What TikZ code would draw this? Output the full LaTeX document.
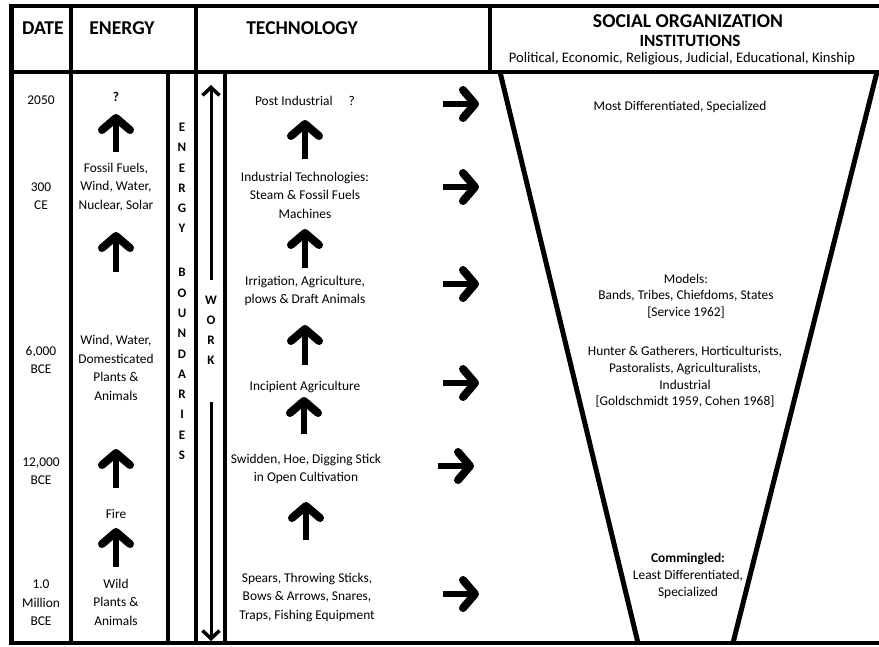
\documentclass[tikz,border=0pt]{standalone}
\usepackage{fontspec}
\setmainfont{Carlito}
\usetikzlibrary{arrows.meta}

\begin{document}
\begin{tikzpicture}[x=1pt,y=-1pt,line width=3.5pt,
  head/.style={inner sep=0pt,font=\fontsize{19.6}{22}\selectfont\bfseries},
  txt/.style={align=center,inner sep=0pt,font=\fontsize{13.4}{18.5}\selectfont},
  inst/.style={align=center,inner sep=0pt,font=\fontsize{13.4}{16.7}\selectfont},
  letters/.style={align=center,inner sep=0pt,font=\fontsize{13}{20.3}\selectfont\bfseries},
  big arrow/.style={line width=6.5pt,-{Straight Barb[length=12pt,width=28pt,line width=8pt,round]}},
  work arrow/.style={line width=3pt,-{Straight Barb[length=8pt,width=17pt,line width=3.5pt]}}]

  \useasboundingbox (0,0) rectangle (879,646);

  % frame
  \draw (11,6) -- (879,6);
  \draw (11,72) -- (879,72);
  \draw (11,643) -- (879,643);
  \draw[line width=5pt] (11,4) -- (11,645);
  \draw (71,6) -- (71,643);
  \draw (196,6) -- (196,643);
  \draw (490,6) -- (490,72);
  \draw (168,72) -- (168,643);
  \draw (225,72) -- (225,643);
  \draw[line width=5pt] (500,72) -- (638,643);
  \draw[line width=5pt] (877,72) -- (733,643);

  % header
  \node[head] (date) at (43,28) {DATE};
  \node[head] (energy) at (122,28) {ENERGY};
  \node[head] (tech) at (302,28) {TECHNOLOGY};
  \node[head] (social) at (688,21) {SOCIAL ORGANIZATION};
  \node[inner sep=0pt,font=\fontsize{17.2}{20}\selectfont\bfseries] (inst) at (690,41) {INSTITUTIONS};
  \node[inner sep=0pt,font=\fontsize{14.6}{17}\selectfont] (kinds) at (682,59) {Political, Economic, Religious, Judicial, Educational, Kinship};

  % dates
  \node[txt] (d1) at (41,100) {2050};
  \node[txt] (d2) at (41,196) {300\\CE};
  \node[txt] (d3) at (41,360) {6,000\\BCE};
  \node[txt] (d4) at (41,471) {12,000\\BCE};
  \node[txt] (d5) at (41,603) {1.0\\Million\\BCE};

  % energy
  \node[txt,font=\fontsize{13.4}{18.5}\selectfont\bfseries] (e1) at (116,97) {?};
  \node[txt] (e2) at (116,187) {Fossil Fuels,\\Wind, Water,\\Nuclear, Solar};
  \node[txt] (e3) at (116,368) {Wind, Water,\\Domesticated\\Plants \&\\Animals};
  \node[txt] (e4) at (116,514) {Fire};
  \node[txt] (e5) at (116,602) {Wild\\Plants \&\\Animals};

  \node[letters] (eng) at (182,178) {E\\N\\E\\R\\G\\Y};
  \node[letters] (bound) at (182,364) {B\\O\\U\\N\\D\\A\\R\\I\\E\\S};
  \node[letters,font=\fontsize{13}{20}\selectfont\bfseries] (work) at (211,330) {W\\O\\R\\K};

  % technology
  \node[txt] (t1) at (305,101) {Post Industrial\hspace{1.2em}?};
  \node[txt] (t2) at (305,195) {Industrial Technologies:\\Steam \& Fossil Fuels\\Machines};
  \node[txt] (t3) at (305,291) {Irrigation, Agriculture,\\plows \& Draft Animals};
  \node[txt] (t4) at (305,387) {Incipient Agriculture};
  \node[txt] (t5) at (306,469) {Swidden, Hoe, Digging Stick\\in Open Cultivation};
  \node[txt] (t6) at (307,597) {Spears, Throwing Sticks,\\Bows \& Arrows, Snares,\\Traps, Fishing Equipment};

  % social organization
  \node[inst] (s1) at (680,107) {Most Differentiated, Specialized};
  \node[inst] (s2) at (686,296) {Models:\\Bands, Tribes, Chiefdoms, States\\{[}Service 1962{]}};
  \node[inst] (s3) at (685,377) {Hunter \& Gatherers, Horticulturists,\\Pastoralists, Agriculturalists,\\Industrial\\{[}Goldschmidt 1959, Cohen 1968{]}};
  \node[inst] (s4) at (688,576) {\textbf{Commingled:}\\Least Differentiated,\\Specialized};

  % arrow ends
  \coordinate (ea1) at (116,152); \coordinate (eb1) at (116,114);
  \coordinate (ea2) at (116,272); \coordinate (eb2) at (116,232);
  \coordinate (ea3) at (116,488); \coordinate (eb3) at (116,449);
  \coordinate (ea4) at (116,567); \coordinate (eb4) at (116,528);
  \coordinate (ta1) at (305,159); \coordinate (tb1) at (305,120);
  \coordinate (ta2) at (305,268); \coordinate (tb2) at (305,229);
  \coordinate (ta3) at (305,365); \coordinate (tb3) at (305,325);
  \coordinate (ta4) at (304,434); \coordinate (tb4) at (304,397);
  \coordinate (ta5) at (306,540); \coordinate (tb5) at (306,502);
  \coordinate (ra1) at (443,104); \coordinate (rb1) at (479,104);
  \coordinate (ra2) at (443,187); \coordinate (rb2) at (479,187);
  \coordinate (ra3) at (443,284); \coordinate (rb3) at (479,284);
  \coordinate (ra4) at (443,383); \coordinate (rb4) at (479,383);
  \coordinate (ra5) at (438,466); \coordinate (rb5) at (474,466);
  \coordinate (ra6) at (443,594); \coordinate (rb6) at (479,594);
  \coordinate (wa1) at (211,280); \coordinate (wb1) at (211,85);
  \coordinate (wa2) at (211,402); \coordinate (wb2) at (211,641);

  \path[big arrow]
    (ea1) edge (eb1)
    (ea2) edge (eb2)
    (ea3) edge (eb3)
    (ea4) edge (eb4);

  \path[big arrow]
    (ta1) edge (tb1)
    (ta2) edge (tb2)
    (ta3) edge (tb3)
    (ta4) edge (tb4)
    (ta5) edge (tb5);

  \path[big arrow]
    (ra1) edge (rb1)
    (ra2) edge (rb2)
    (ra3) edge (rb3)
    (ra4) edge (rb4)
    (ra5) edge (rb5)
    (ra6) edge (rb6);

  \path[work arrow]
    (wa1) edge (wb1)
    (wa2) edge (wb2);

\end{tikzpicture}
\end{document}
